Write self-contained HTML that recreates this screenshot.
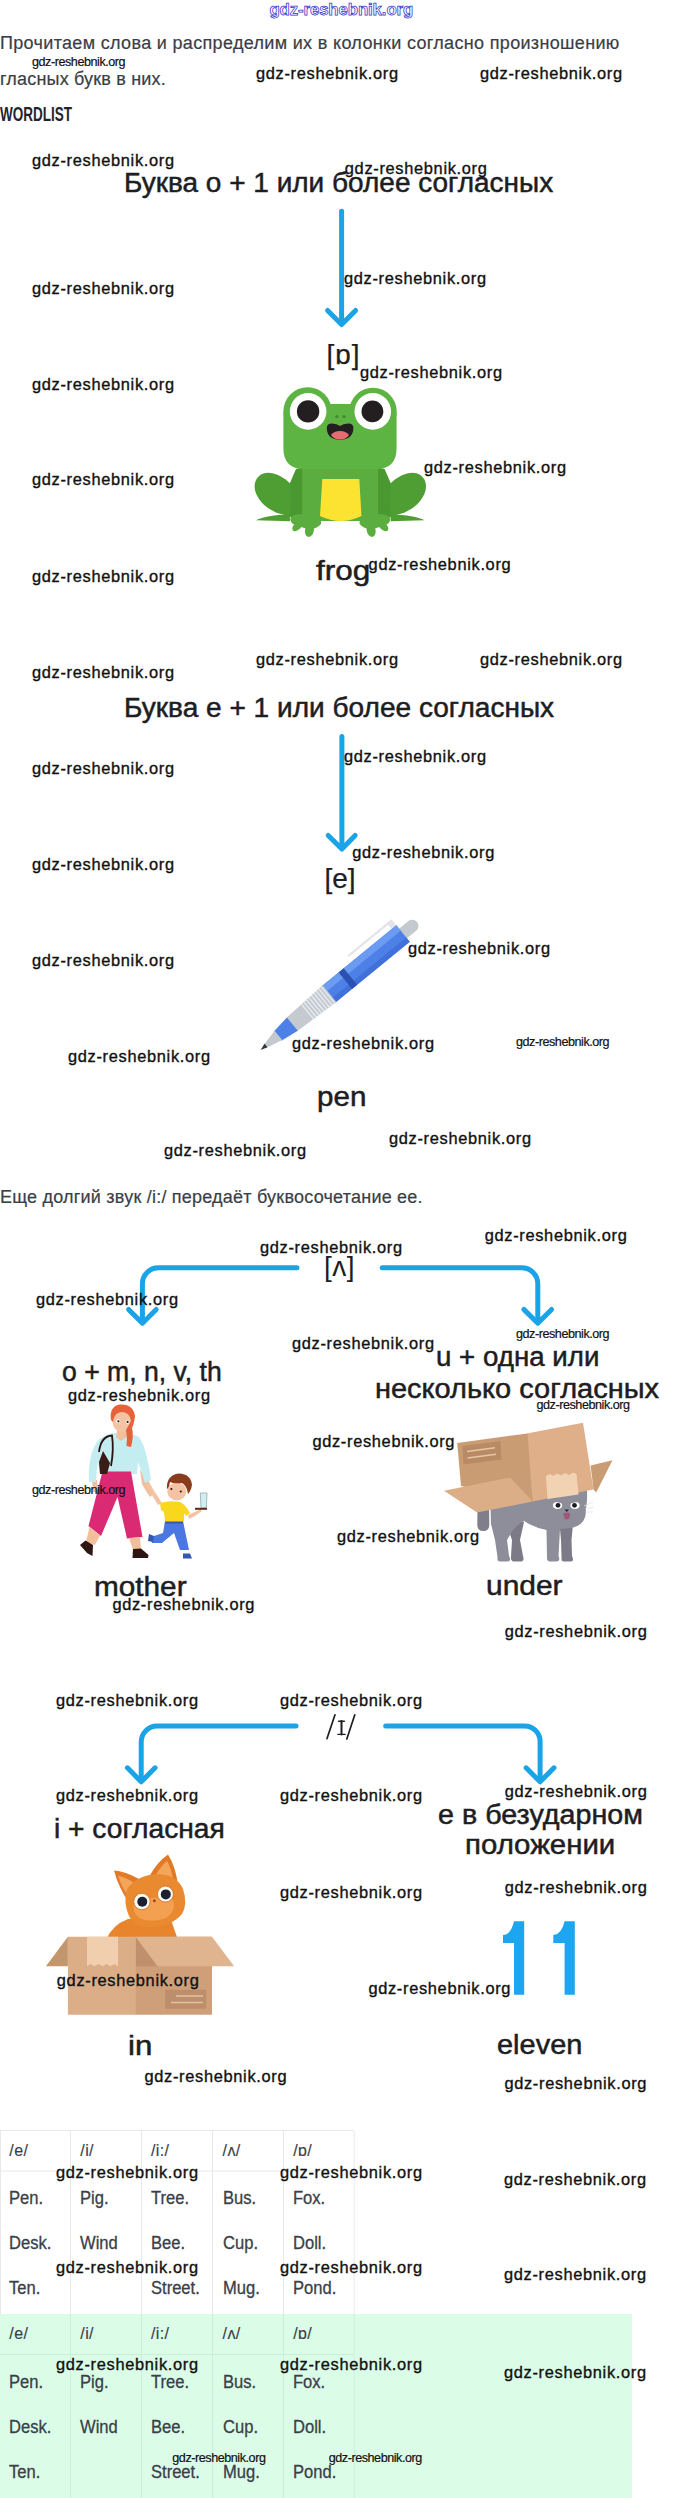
<!DOCTYPE html>
<html><head><meta charset="utf-8"><style>
html,body{margin:0;padding:0;background:#fff;}
#pg{position:relative;width:680px;height:2498px;overflow:hidden;background:#fff;font-family:"Liberation Sans",sans-serif;}
.t{position:absolute;white-space:nowrap;line-height:1;}
svg{position:absolute;}
</style></head><body><div id="pg">
<svg style="left:0;top:0" width="680" height="2498" viewBox="0 0 680 2498" fill="none" stroke="#1aa3e6" stroke-width="5" stroke-linecap="round" stroke-linejoin="round">
<path d="M341.6 211.3V323"/><path d="M327.6 310.5L341.6 324.5L355.6 310.5"/>
<path d="M341.9 736.5V848"/><path d="M328.2 835.4L341.9 849.1L355.1 835.4"/>
<path d="M297 1267.8H158.4A16 16 0 0 0 142.4 1283.8V1322"/><path d="M128.6 1309.4L142.4 1323.2L156.2 1309.4"/>
<path d="M382.2 1267.8H521.8A16 16 0 0 1 537.8 1283.8V1322"/><path d="M523.8 1309.4L537.8 1323.2L551.6 1309.4"/>
<path d="M296 1726H157.2A16 16 0 0 0 141.2 1742V1780"/><path d="M127.4 1767.8L141.2 1781.8L155.1 1767.8"/>
<path d="M385.7 1726H524.6A15.5 15.5 0 0 1 540.1 1741.5V1780"/><path d="M526.1 1767.8L540.1 1781.8L554 1767.8"/>
</svg>

<div style="position:absolute;left:0;top:2314px;width:632px;height:184px;background:#dbfde8"></div>
<svg style="left:0;top:0" width="680" height="2498" viewBox="0 0 680 2498" fill="none" stroke-width="1">
<g stroke="#e6e8ea">
<path d="M0 2130.5H354M0 2171H354M0.5 2131V2314M70.5 2131V2314M141.5 2131V2314M212.5 2131V2314M283.5 2131V2314M354.2 2131V2314"/>
</g>
<g stroke="#cdefd8">
<path d="M0 2354.5H354M70.5 2314V2498M141.5 2314V2498M212.5 2314V2498M283.5 2314V2498M354.2 2314V2498"/>
</g>
</svg>

<svg style="left:250px;top:380px" width="185" height="160" viewBox="250 380 185 160">

<path fill="#4a9830" d="M296 469L304 467V517H288L289.5 484Z"/>
<path fill="#4e9e33" d="M290.5 484C283 476 271 471 263.5 473.5C256 476 253 484 255.5 492C258.5 501 267 509.5 279 513.5L290 516.5Z"/>
<path fill="#4e9e33" d="M256 520.3Q266 515 290 514.5V521.2Z"/>
<path fill="#5aad3e" d="M302.5 455H321V524Q316 530 308 529Q300 527 293 524Q289 521 291 517Q294 514 302.5 514Z"/>
<ellipse cx="297.5" cy="526" rx="3.6" ry="6.5" transform="rotate(45 297.5 526)" fill="#5aad3e"/>
<ellipse cx="309.5" cy="530" rx="4.4" ry="7" transform="rotate(12 309.5 530)" fill="#5aad3e"/>

<g transform="translate(680.6 0) scale(-1 1)">
<path fill="#4a9830" d="M296 469L304 467V517H288L289.5 484Z"/>
<path fill="#4e9e33" d="M290.5 484C283 476 271 471 263.5 473.5C256 476 253 484 255.5 492C258.5 501 267 509.5 279 513.5L290 516.5Z"/>
<path fill="#4e9e33" d="M256 520.3Q266 515 290 514.5V521.2Z"/>
<path fill="#5aad3e" d="M302.5 455H321V524Q316 530 308 529Q300 527 293 524Q289 521 291 517Q294 514 302.5 514Z"/>
<ellipse cx="297.5" cy="526" rx="3.6" ry="6.5" transform="rotate(45 297.5 526)" fill="#5aad3e"/>
<ellipse cx="309.5" cy="530" rx="4.4" ry="7" transform="rotate(12 309.5 530)" fill="#5aad3e"/>
</g>
<!-- body -->
<path fill="#5aad3e" d="M302.5 455H378V521H302.5Z"/>
<!-- head -->
<circle cx="307.6" cy="411.4" r="24.2" fill="#5db442"/>
<circle cx="373" cy="411.4" r="23.7" fill="#5db442"/>
<path fill="#5db442" d="M283.4 412H396.6V448Q396.6 469 376 469H304Q283.4 469 283.4 448Z"/>
<path fill="#5db442" d="M300 404H382V430H300Z"/>
<!-- belly -->
<path fill="#fde331" d="M322.3 479H359.3L361.5 516Q341 526 320 516Z"/>
<!-- eyes -->
<circle cx="308.1" cy="411.4" r="18.3" fill="#fff"/>
<circle cx="372.8" cy="411.4" r="18.3" fill="#fff"/>
<circle cx="308.1" cy="411.4" r="11.2" fill="#231f20"/>
<circle cx="372.4" cy="411.4" r="10.9" fill="#231f20"/>
<circle cx="336.9" cy="416.6" r="1.6" fill="#3f8a2c"/>
<circle cx="344.1" cy="416.6" r="1.6" fill="#3f8a2c"/>
<!-- mouth -->
<path fill="#231f20" d="M326.8 428Q327 423.5 332 423.6Q337 423.8 340 426Q343 423.8 348 423.6Q353.3 423.5 353.4 428Q353 439.7 340 439.7Q327 439.7 326.8 428Z"/>
<path fill="#e96b72" d="M331 435Q334 431 340 431Q346 431 349 435Q346 439.5 340 439.5Q334 439.5 331 435Z"/>
</svg>
<svg style="left:250px;top:910px" width="180" height="150" viewBox="250 910 180 150">
<g transform="translate(260.6 1050) rotate(-39.28)">
<path fill="#e4e2ea" d="M127 -18.3Q127 -16 129 -15.8H178V-10.6H184V-18.3Z"/><path fill="#fff" d="M129 -16.1H177V-10.6H129Z"/>
<path fill="#c4c9d0" d="M182 -6.2H196A6.2 6.2 0 0 1 196 6.2H182Z"/>
<path fill="#4e81e7" d="M88 -10.6H184V10.6H88Z"/>
<path fill="#6c9bf2" d="M88 -10.6H184V-3.5H88Z"/>
<path fill="#4071da" d="M88 5H184V10.6H88Z"/>
<path fill="#2b52b2" d="M109.5 -10.6H116V10.6H109.5Z"/>
<path fill="#c5cad1" d="M40 -8.6L89 -10.8V10.8L40 8.6Z"/>
<g fill="#e9ecf0"><rect x="60.0" y="-10.3" width="1.3" height="20.6"/><rect x="63.3" y="-10.3" width="1.3" height="20.6"/><rect x="66.6" y="-10.3" width="1.3" height="20.6"/><rect x="69.9" y="-10.3" width="1.3" height="20.6"/><rect x="73.2" y="-10.3" width="1.3" height="20.6"/><rect x="76.5" y="-10.3" width="1.3" height="20.6"/><rect x="79.8" y="-10.3" width="1.3" height="20.6"/><rect x="83.1" y="-10.3" width="1.3" height="20.6"/><rect x="86.4" y="-10.3" width="1.3" height="20.6"/></g>
<path fill="#4e81e7" d="M22 -6L41 -8.6V8.6L22 6Z"/>
<path fill="#c4c9d0" d="M5 -1.8L23 -6V6L5 1.8Z"/>
<path fill="#2c3540" d="M0 0L7 -2.2V2.2Z"/>
</g>
</svg>
<svg style="left:70px;top:1395px" width="150" height="170" viewBox="70 1395 150 170">
<!-- mother arms (skin hands) -->
<path fill="#f2bf9d" d="M140 1470L147 1478Q152 1486 154 1494L150 1497Q145 1490 142 1484Z"/>
<path fill="#f2bf9d" d="M92 1480L97 1480L98 1492L93 1492Z"/>
<!-- shirt & arms -->
<path fill="#c3edf1" d="M104 1436Q112 1432 121 1433Q131 1433 139 1437Q144 1444 147 1458Q150 1470 151 1480L145 1483Q141 1470 138 1462L137 1474H100L98 1462Q96 1472 96 1482L89 1482Q88 1468 91 1456Q95 1440 104 1436Z"/>
<!-- pants -->
<path fill="#da2a74" d="M102.5 1471.5H131L142.5 1537L127 1538.5L117.5 1497L101 1536L88.5 1526Z"/>
<!-- legs skin -->
<path fill="#f2bf9d" d="M89.5 1527L100 1535.5L95 1545L86 1542Z"/>
<path fill="#f2bf9d" d="M129 1538L140 1537L141 1550L133 1550Z"/>
<!-- shoes -->
<path fill="#2e1712" d="M85.5 1540.5L93 1545L92.5 1556L87 1553L80 1545Z"/>
<path fill="#2e1712" d="M133 1549L141 1548.5L148.5 1555L148 1558H132.5Z"/>
<!-- neck & face -->
<path fill="#f2bf9d" d="M117.5 1428H126L127 1437L121 1441L116 1437Z"/>
<ellipse cx="122" cy="1421.5" rx="9.5" ry="10.5" fill="#f4c3a3"/>
<!-- hair -->
<path fill="#e5623a" d="M111 1420Q109 1406 120 1404.5Q133 1403.5 135 1416Q134 1424 132 1428Q134 1436 131 1447L126.5 1446Q127.5 1437 126 1430L131 1421Q130 1412 121 1412Q114 1413 113 1422Z"/>
<!-- eyes -->
<circle cx="118.2" cy="1421.2" r="1.9" fill="#fff"/><circle cx="127.6" cy="1421.8" r="1.9" fill="#fff"/>
<circle cx="118.4" cy="1421.3" r="1.1" fill="#2a1a18"/><circle cx="127.6" cy="1421.9" r="1.1" fill="#2a1a18"/>
<!-- bag strap & bag -->
<path fill="none" stroke="#2a1412" stroke-width="1.8" d="M99 1452Q101 1436 112 1435.5Q114 1450 111 1466"/>
<path fill="#3a1c17" d="M103 1451L110 1463L107 1474L100 1474L99 1462Z"/>
<!-- child -->
<path fill="#f4c3a3" d="M145.5 1484Q150 1492 158 1505L162 1503Q155 1492 149 1483Z"/>
<path fill="#f4c3a3" d="M188 1515Q195 1512 201 1509L202 1511Q196 1516 189 1519Z"/>
<path fill="#4a77e1" d="M165 1521H183L189 1550H180L174 1533L162 1543L152 1543L151 1537L163 1533Z"/>
<path fill="#3457b5" d="M165.3 1520.8H183V1523.5H165.3Z"/>
<path fill="#f9d71c" d="M160 1503Q170 1500 180 1502Q186 1505 190 1513L186 1516L184 1513L184 1521.5H165L164 1512L161 1510Z"/>
<ellipse cx="176.8" cy="1491.5" rx="9.5" ry="9" fill="#f4c3a3"/>
<path fill="#8a3d1d" d="M167 1489Q166 1475 179 1473.5Q191 1474 192 1485Q191 1491 188 1494Q187 1486 182 1483Q174 1484 170 1482Q169 1488 167 1489Z"/>
<circle cx="171.4" cy="1489" r="1.1" fill="#2a1a18"/><circle cx="180.8" cy="1491.5" r="1.1" fill="#2a1a18"/>
<path fill="#3457b5" d="M149 1534L154 1536L153 1542L148 1541Z"/>
<path fill="#3457b5" d="M183 1553.5L190 1553.5L192 1558.5H183Z"/>
<!-- glass & tray -->
<path fill="#cfeff2" stroke="#9aa" stroke-width="0.8" d="M200.3 1493H207L206.3 1508H201Z"/>
<path fill="#5a2a1a" d="M195 1507.8H207V1509.8H195Z"/>
</svg>

<svg style="left:435px;top:1415px" width="185" height="152" viewBox="435 1415 185 152">
<!-- tail -->
<path fill="#7f7e8a" d="M477.5 1505H489L489.3 1525Q489 1531 483.3 1531Q477.5 1531 477.3 1525Z"/>
<!-- far back leg -->
<path fill="#7b7a86" d="M512 1518L524 1522L520 1540L523 1556Q525 1561.5 520 1561.5H513Q510.5 1561 511 1557L512 1540L508 1528Z"/>
<!-- far front leg -->
<path fill="#7b7a86" d="M559.5 1524H573L571.5 1540L572 1556Q575 1561.5 570 1561.5H564Q561 1561.5 561.5 1557L561 1540Z"/>
<!-- body -->
<path fill="#8e8d9a" d="M490 1492H584L586 1512Q585 1526 570 1528L560 1529L558.5 1556Q561 1561.5 556 1561.5H550Q546.5 1561.5 547 1557L546.5 1530Q535 1528 524 1521Q518 1524 513 1530L507 1540L509 1556Q512 1561.5 507 1561.5H500Q497 1561.5 497.5 1557L495 1540L491 1524Z"/>
<!-- head -->
<path fill="#8e8d9a" d="M542.7 1490H587Q588 1512 581 1520Q574 1526 564 1526Q551 1525 546 1518Q541.5 1510 542.7 1498Z"/>
<!-- face -->
<ellipse cx="557.5" cy="1505.5" rx="4.6" ry="3.4" fill="#fff"/>
<ellipse cx="575" cy="1505.5" rx="4.6" ry="3.4" fill="#fff"/>
<circle cx="558" cy="1505.3" r="2.4" fill="#1c1a24"/>
<circle cx="574.5" cy="1505.3" r="2.4" fill="#1c1a24"/>
<path fill="#8e8d9a" d="M552 1501L563 1503.5V1501.5H552Z M570 1503.5L581 1501H570Z"/>
<path fill="#2a2530" d="M564.5 1509.5H569L566.8 1512Z"/>
<path fill="#a0587a" d="M563.3 1513.5Q566.8 1511.5 570.3 1513.5L569.3 1518.5Q566.8 1520.5 564.3 1518.5Z"/>
<path stroke="#e2e2ea" stroke-width="0.8" fill="none" d="M584 1506L593 1502M585 1509L594 1507M585 1512L593 1512"/>
<!-- box right face -->
<path fill="#deaf88" d="M526.8 1433.5L583 1422.8L593.5 1489.5L532.3 1501.6Z"/>
<!-- box left face -->
<path fill="#c99c74" d="M457.2 1443.1L527.6 1433.4L532.6 1501.2L461 1486Z"/>
<path fill="#b98b64" d="M462.5 1446L500.5 1441L501.5 1459.5L463.5 1464.5Z"/>
<path stroke="#e6c6a6" stroke-width="1.6" d="M467 1451.5L495 1447.8M467.5 1458L496 1454.3"/>
<!-- tape -->
<path fill="#f1d3b3" d="M545.9 1476L550 1474L553 1476L557 1473.5L561 1475.5L565 1473L569 1475L573 1472.5L576.5 1474L578.5 1494.5L547.5 1499Z"/>
<!-- right flap -->
<path fill="#c99c74" d="M590.6 1465.5L612.5 1460.3L596.2 1492.5L593.5 1489.5Z"/>
<!-- left flap -->
<path fill="#dcae87" d="M444 1490.8L510.1 1477.6L532.8 1501.5L477 1512.5Z"/>
</svg>

<svg style="left:40px;top:1850px" width="200" height="170" viewBox="40 1850 200 170">
<!-- cat body -->
<path fill="#e8852c" d="M106 1940Q112 1925 128 1919L170 1917L178 1940Z"/>
<!-- ears -->
<path fill="#e07a26" d="M114 1870.5Q125 1871 139 1879L130 1904Q119 1889 114 1870.5Z"/>
<path fill="#f4a55a" d="M118 1875.5Q126 1877.5 133 1882L128 1896Q121 1886 118 1875.5Z"/>
<path fill="#e07a26" d="M149 1877Q157 1862 168 1854.5Q176 1867 178 1886Z"/>
<path fill="#f4a55a" d="M155 1876Q161 1866 167 1861Q172 1870 173 1880Z"/>
<!-- head -->
<path fill="#ea8a30" d="M127 1889Q137 1875 158 1874Q177 1875 183 1889Q188 1904 182 1914Q172 1926 152 1927Q135 1928 129 1916Q123 1903 127 1889Z"/>
<path fill="#f3a050" d="M134 1904Q150 1895 172 1898Q178 1910 166 1918Q150 1924 138 1917Q132 1911 134 1904Z"/>
<!-- eyes -->
<circle cx="141.9" cy="1901.5" r="8.2" fill="#fffaf0" stroke="#c96a20" stroke-width="0.8"/>
<circle cx="165.4" cy="1894.1" r="8" fill="#fffaf0" stroke="#c96a20" stroke-width="0.8"/>
<circle cx="142.3" cy="1901.8" r="5" fill="#1b2033"/>
<circle cx="165.8" cy="1894.4" r="5" fill="#1b2033"/>
<circle cx="154.4" cy="1900.7" r="1.5" fill="#a44a1a"/>
<!-- box: right side face -->
<path fill="#cf9f7a" d="M135 1936.8H212V2014.7H135Z"/>
<path fill="#c0906c" d="M135.6 1936.8L157.6 1966.2H135.6Z"/>
<!-- front face -->
<path fill="#dcae88" d="M67.9 1936.8H135.8V2014.7H67.9Z"/>
<!-- left flap -->
<path fill="#c4966e" d="M45.9 1966.2L67.9 1936.8V1966.2Z"/>
<!-- tape -->
<path fill="#f1cfae" d="M87 1936.8H118V1966.2L114 1964L110.5 1966.2L106.5 1964L102.5 1966.2L98.5 1964L94.5 1966.2L90.5 1964L87 1966.2Z"/>
<!-- right flap -->
<path fill="#e0b48f" d="M135.6 1936.8H212L234.1 1966.2H157.6Z"/>
<!-- label -->
<path fill="#bc8e6b" d="M165 1989.7H206.2V2008.8H165Z"/>
<path stroke="#e4c2a4" stroke-width="1.6" d="M176 1996H203M171 2002.5H203"/>
</svg>

<svg style="left:495px;top:1915px" width="90" height="85" viewBox="495 1915 90 85">
<path fill="#1ba6ef" d="M514 1921.2H524.2V1994.7H514V1943H503V1935Q511 1934.5 514 1921.2Z"/>
<path fill="#1ba6ef" d="M564.6 1921.2H574.8V1994.7H564.6V1943H553.3V1935Q561.5 1934.5 564.6 1921.2Z"/>
</svg>

<svg style="left:315px;top:1705px" width="50" height="40" viewBox="315 1705 50 40" fill="none" stroke="#1d1d22" stroke-linecap="round">
<path stroke-width="1.7" d="M335 1714.8L327 1738.6M354.8 1714.8L346.8 1738.9"/>
<path stroke-width="2" d="M341.5 1721V1734.5"/>
<path stroke-width="1.4" d="M338.6 1721.2H344.4M337.9 1734.4H345.1"/>
</svg>

<div class="t" style="left:0.0px;top:33.54px;font-size:18px;color:#3a3e46;letter-spacing:0.330px;-webkit-text-stroke:0.2px #3a3e46;">Прочитаем слова и распределим их в колонки согласно произношению</div>
<div class="t" style="left:0.0px;top:69.74px;font-size:18px;color:#3a3e46;letter-spacing:0.180px;-webkit-text-stroke:0.2px #3a3e46;">гласных букв в них.</div>
<div class="t" style="left:0.0px;top:104.67px;font-size:19.3px;color:#1f2530;font-weight:bold;transform:scaleX(0.70);transform-origin:0 0;">WORDLIST</div>
<div class="t" style="left:124.1px;top:169.56px;font-size:27px;color:#1d1d22;-webkit-text-stroke:0.5px #1d1d22;transform:scaleX(1.0364);transform-origin:0 0;">Буква о + 1 или более согласных</div>
<div class="t" style="left:326.5px;top:340.54px;font-size:28px;color:#1d1d22;letter-spacing:1.000px;-webkit-text-stroke:0.25px #1d1d22;">[ɒ]</div>
<div class="t" style="left:315.5px;top:557.56px;font-size:27px;color:#1d1d22;-webkit-text-stroke:0.5px #1d1d22;transform:scaleX(1.1667);transform-origin:0 0;">frog</div>
<div class="t" style="left:124.1px;top:695.06px;font-size:27px;color:#1d1d22;-webkit-text-stroke:0.5px #1d1d22;transform:scaleX(1.0388);transform-origin:0 0;">Буква е + 1 или более согласных</div>
<div class="t" style="left:324.5px;top:865.14px;font-size:28px;color:#1d1d22;-webkit-text-stroke:0.25px #1d1d22;">[e]</div>
<div class="t" style="left:317.0px;top:1084.06px;font-size:27px;color:#1d1d22;-webkit-text-stroke:0.5px #1d1d22;transform:scaleX(1.0952);transform-origin:0 0;">pen</div>
<div class="t" style="left:0.0px;top:1188.34px;font-size:18px;color:#3a3e46;letter-spacing:0.220px;-webkit-text-stroke:0.2px #3a3e46;">Еще долгий звук /i:/ передаёт буквосочетание ее.</div>
<div class="t" style="left:324.0px;top:1252.54px;font-size:28px;color:#1d1d22;letter-spacing:0.500px;">[ʌ]</div>
<div class="t" style="left:61.5px;top:1359.06px;font-size:27px;color:#1d1d22;-webkit-text-stroke:0.5px #1d1d22;transform:scaleX(0.9844);transform-origin:0 0;">o + m, n, v, th</div>
<div class="t" style="left:436.0px;top:1343.66px;font-size:27px;color:#1d1d22;-webkit-text-stroke:0.5px #1d1d22;transform:scaleX(1.0256);transform-origin:0 0;">u + одна или</div>
<div class="t" style="left:374.7px;top:1375.86px;font-size:27px;color:#1d1d22;-webkit-text-stroke:0.5px #1d1d22;transform:scaleX(1.0734);transform-origin:0 0;">несколько согласных</div>
<div class="t" style="left:94.2px;top:1573.86px;font-size:27px;color:#1d1d22;-webkit-text-stroke:0.5px #1d1d22;transform:scaleX(1.1012);transform-origin:0 0;">mother</div>
<div class="t" style="left:485.9px;top:1573.36px;font-size:27px;color:#1d1d22;-webkit-text-stroke:0.5px #1d1d22;transform:scaleX(1.1088);transform-origin:0 0;">under</div>
<div class="t" style="left:54.4px;top:1815.56px;font-size:27px;color:#1d1d22;-webkit-text-stroke:0.5px #1d1d22;transform:scaleX(1.0435);transform-origin:0 0;">i + согласная</div>
<div class="t" style="left:438.4px;top:1802.06px;font-size:27px;color:#1d1d22;-webkit-text-stroke:0.5px #1d1d22;transform:scaleX(1.0628);transform-origin:0 0;">е в безударном</div>
<div class="t" style="left:464.8px;top:1831.56px;font-size:27px;color:#1d1d22;-webkit-text-stroke:0.5px #1d1d22;transform:scaleX(1.0889);transform-origin:0 0;">положении</div>
<div class="t" style="left:127.5px;top:2032.86px;font-size:27px;color:#1d1d22;-webkit-text-stroke:0.5px #1d1d22;transform:scaleX(1.1556);transform-origin:0 0;">in</div>
<div class="t" style="left:496.9px;top:2031.56px;font-size:27px;color:#1d1d22;-webkit-text-stroke:0.5px #1d1d22;transform:scaleX(1.0727);transform-origin:0 0;">eleven</div>
<div class="t" style="left:9.3px;top:2143.28px;font-size:16px;color:#3a3f48;letter-spacing:0.400px;-webkit-text-stroke:0.15px #3a3f48;">/e/</div>
<div class="t" style="left:9.3px;top:2189.04px;font-size:18px;color:#3a3f48;-webkit-text-stroke:0.3px #3a3f48;transform:scaleX(0.92);transform-origin:0 0;">Pen.</div>
<div class="t" style="left:9.3px;top:2234.34px;font-size:18px;color:#3a3f48;-webkit-text-stroke:0.3px #3a3f48;transform:scaleX(0.92);transform-origin:0 0;">Desk.</div>
<div class="t" style="left:9.3px;top:2279.04px;font-size:18px;color:#3a3f48;-webkit-text-stroke:0.3px #3a3f48;transform:scaleX(0.92);transform-origin:0 0;">Ten.</div>
<div class="t" style="left:80.3px;top:2143.28px;font-size:16px;color:#3a3f48;letter-spacing:0.400px;-webkit-text-stroke:0.15px #3a3f48;">/i/</div>
<div class="t" style="left:80.3px;top:2189.04px;font-size:18px;color:#3a3f48;-webkit-text-stroke:0.3px #3a3f48;transform:scaleX(0.92);transform-origin:0 0;">Pig.</div>
<div class="t" style="left:80.3px;top:2234.34px;font-size:18px;color:#3a3f48;-webkit-text-stroke:0.3px #3a3f48;transform:scaleX(0.92);transform-origin:0 0;">Wind</div>
<div class="t" style="left:150.9px;top:2143.28px;font-size:16px;color:#3a3f48;letter-spacing:0.400px;-webkit-text-stroke:0.15px #3a3f48;">/i:/</div>
<div class="t" style="left:150.9px;top:2189.04px;font-size:18px;color:#3a3f48;-webkit-text-stroke:0.3px #3a3f48;transform:scaleX(0.92);transform-origin:0 0;">Tree.</div>
<div class="t" style="left:150.9px;top:2234.34px;font-size:18px;color:#3a3f48;-webkit-text-stroke:0.3px #3a3f48;transform:scaleX(0.92);transform-origin:0 0;">Bee.</div>
<div class="t" style="left:150.9px;top:2279.04px;font-size:18px;color:#3a3f48;-webkit-text-stroke:0.3px #3a3f48;transform:scaleX(0.92);transform-origin:0 0;">Street.</div>
<div class="t" style="left:222.6px;top:2143.28px;font-size:16px;color:#3a3f48;letter-spacing:0.400px;-webkit-text-stroke:0.15px #3a3f48;">/ʌ/</div>
<div class="t" style="left:222.6px;top:2189.04px;font-size:18px;color:#3a3f48;-webkit-text-stroke:0.3px #3a3f48;transform:scaleX(0.92);transform-origin:0 0;">Bus.</div>
<div class="t" style="left:222.6px;top:2234.34px;font-size:18px;color:#3a3f48;-webkit-text-stroke:0.3px #3a3f48;transform:scaleX(0.92);transform-origin:0 0;">Cup.</div>
<div class="t" style="left:222.6px;top:2279.04px;font-size:18px;color:#3a3f48;-webkit-text-stroke:0.3px #3a3f48;transform:scaleX(0.92);transform-origin:0 0;">Mug.</div>
<div class="t" style="left:293.2px;top:2143.28px;font-size:16px;color:#3a3f48;letter-spacing:0.400px;-webkit-text-stroke:0.15px #3a3f48;">/ɒ/</div>
<div class="t" style="left:293.2px;top:2189.04px;font-size:18px;color:#3a3f48;-webkit-text-stroke:0.3px #3a3f48;transform:scaleX(0.92);transform-origin:0 0;">Fox.</div>
<div class="t" style="left:293.2px;top:2234.34px;font-size:18px;color:#3a3f48;-webkit-text-stroke:0.3px #3a3f48;transform:scaleX(0.92);transform-origin:0 0;">Doll.</div>
<div class="t" style="left:293.2px;top:2279.04px;font-size:18px;color:#3a3f48;-webkit-text-stroke:0.3px #3a3f48;transform:scaleX(0.92);transform-origin:0 0;">Pond.</div>
<div class="t" style="left:9.3px;top:2326.48px;font-size:16px;color:#3a3f48;letter-spacing:0.400px;-webkit-text-stroke:0.15px #3a3f48;">/e/</div>
<div class="t" style="left:9.3px;top:2373.14px;font-size:18px;color:#3a3f48;-webkit-text-stroke:0.3px #3a3f48;transform:scaleX(0.92);transform-origin:0 0;">Pen.</div>
<div class="t" style="left:9.3px;top:2417.94px;font-size:18px;color:#3a3f48;-webkit-text-stroke:0.3px #3a3f48;transform:scaleX(0.92);transform-origin:0 0;">Desk.</div>
<div class="t" style="left:9.3px;top:2462.94px;font-size:18px;color:#3a3f48;-webkit-text-stroke:0.3px #3a3f48;transform:scaleX(0.92);transform-origin:0 0;">Ten.</div>
<div class="t" style="left:80.3px;top:2326.48px;font-size:16px;color:#3a3f48;letter-spacing:0.400px;-webkit-text-stroke:0.15px #3a3f48;">/i/</div>
<div class="t" style="left:80.3px;top:2373.14px;font-size:18px;color:#3a3f48;-webkit-text-stroke:0.3px #3a3f48;transform:scaleX(0.92);transform-origin:0 0;">Pig.</div>
<div class="t" style="left:80.3px;top:2417.94px;font-size:18px;color:#3a3f48;-webkit-text-stroke:0.3px #3a3f48;transform:scaleX(0.92);transform-origin:0 0;">Wind</div>
<div class="t" style="left:150.9px;top:2326.48px;font-size:16px;color:#3a3f48;letter-spacing:0.400px;-webkit-text-stroke:0.15px #3a3f48;">/i:/</div>
<div class="t" style="left:150.9px;top:2373.14px;font-size:18px;color:#3a3f48;-webkit-text-stroke:0.3px #3a3f48;transform:scaleX(0.92);transform-origin:0 0;">Tree.</div>
<div class="t" style="left:150.9px;top:2417.94px;font-size:18px;color:#3a3f48;-webkit-text-stroke:0.3px #3a3f48;transform:scaleX(0.92);transform-origin:0 0;">Bee.</div>
<div class="t" style="left:150.9px;top:2462.94px;font-size:18px;color:#3a3f48;-webkit-text-stroke:0.3px #3a3f48;transform:scaleX(0.92);transform-origin:0 0;">Street.</div>
<div class="t" style="left:222.6px;top:2326.48px;font-size:16px;color:#3a3f48;letter-spacing:0.400px;-webkit-text-stroke:0.15px #3a3f48;">/ʌ/</div>
<div class="t" style="left:222.6px;top:2373.14px;font-size:18px;color:#3a3f48;-webkit-text-stroke:0.3px #3a3f48;transform:scaleX(0.92);transform-origin:0 0;">Bus.</div>
<div class="t" style="left:222.6px;top:2417.94px;font-size:18px;color:#3a3f48;-webkit-text-stroke:0.3px #3a3f48;transform:scaleX(0.92);transform-origin:0 0;">Cup.</div>
<div class="t" style="left:222.6px;top:2462.94px;font-size:18px;color:#3a3f48;-webkit-text-stroke:0.3px #3a3f48;transform:scaleX(0.92);transform-origin:0 0;">Mug.</div>
<div class="t" style="left:293.2px;top:2326.48px;font-size:16px;color:#3a3f48;letter-spacing:0.400px;-webkit-text-stroke:0.15px #3a3f48;">/ɒ/</div>
<div class="t" style="left:293.2px;top:2373.14px;font-size:18px;color:#3a3f48;-webkit-text-stroke:0.3px #3a3f48;transform:scaleX(0.92);transform-origin:0 0;">Fox.</div>
<div class="t" style="left:293.2px;top:2417.94px;font-size:18px;color:#3a3f48;-webkit-text-stroke:0.3px #3a3f48;transform:scaleX(0.92);transform-origin:0 0;">Doll.</div>
<div class="t" style="left:293.2px;top:2462.94px;font-size:18px;color:#3a3f48;-webkit-text-stroke:0.3px #3a3f48;transform:scaleX(0.92);transform-origin:0 0;">Pond.</div>
<div class="t" style="left:269.4px;top:2.22px;font-size:16.8px;color:#fbfbff;font-weight:bold;letter-spacing:-0.100px;-webkit-text-stroke:0.75px #3434cc;">gdz-reshebnik.org</div>
<div class="t ws" style="left:32.0px;top:56.27px;font-size:12.6px;color:#111;letter-spacing:-0.450px;-webkit-text-stroke:0.2px #111;">gdz-reshebnik.org</div>
<div class="t w" style="left:256.0px;top:64.55px;font-size:16.4px;color:#111;letter-spacing:0.680px;-webkit-text-stroke:0.35px #111;">gdz-reshebnik.org</div>
<div class="t w" style="left:480.0px;top:64.55px;font-size:16.4px;color:#111;letter-spacing:0.680px;-webkit-text-stroke:0.35px #111;">gdz-reshebnik.org</div>
<div class="t w" style="left:32.0px;top:152.30px;font-size:16.4px;color:#111;letter-spacing:0.680px;-webkit-text-stroke:0.35px #111;">gdz-reshebnik.org</div>
<div class="t w" style="left:344.8px;top:159.55px;font-size:16.4px;color:#111;letter-spacing:0.680px;-webkit-text-stroke:0.35px #111;">gdz-reshebnik.org</div>
<div class="t w" style="left:32.0px;top:279.80px;font-size:16.4px;color:#111;letter-spacing:0.680px;-webkit-text-stroke:0.35px #111;">gdz-reshebnik.org</div>
<div class="t w" style="left:344.0px;top:269.85px;font-size:16.4px;color:#111;letter-spacing:0.680px;-webkit-text-stroke:0.35px #111;">gdz-reshebnik.org</div>
<div class="t w" style="left:32.0px;top:376.05px;font-size:16.4px;color:#111;letter-spacing:0.680px;-webkit-text-stroke:0.35px #111;">gdz-reshebnik.org</div>
<div class="t w" style="left:360.0px;top:363.55px;font-size:16.4px;color:#111;letter-spacing:0.680px;-webkit-text-stroke:0.35px #111;">gdz-reshebnik.org</div>
<div class="t w" style="left:32.0px;top:471.05px;font-size:16.4px;color:#111;letter-spacing:0.680px;-webkit-text-stroke:0.35px #111;">gdz-reshebnik.org</div>
<div class="t w" style="left:424.0px;top:458.55px;font-size:16.4px;color:#111;letter-spacing:0.680px;-webkit-text-stroke:0.35px #111;">gdz-reshebnik.org</div>
<div class="t w" style="left:32.0px;top:567.55px;font-size:16.4px;color:#111;letter-spacing:0.680px;-webkit-text-stroke:0.35px #111;">gdz-reshebnik.org</div>
<div class="t w" style="left:368.6px;top:555.85px;font-size:16.4px;color:#111;letter-spacing:0.680px;-webkit-text-stroke:0.35px #111;">gdz-reshebnik.org</div>
<div class="t w" style="left:32.0px;top:663.55px;font-size:16.4px;color:#111;letter-spacing:0.680px;-webkit-text-stroke:0.35px #111;">gdz-reshebnik.org</div>
<div class="t w" style="left:256.0px;top:651.05px;font-size:16.4px;color:#111;letter-spacing:0.680px;-webkit-text-stroke:0.35px #111;">gdz-reshebnik.org</div>
<div class="t w" style="left:480.0px;top:651.05px;font-size:16.4px;color:#111;letter-spacing:0.680px;-webkit-text-stroke:0.35px #111;">gdz-reshebnik.org</div>
<div class="t w" style="left:32.0px;top:760.05px;font-size:16.4px;color:#111;letter-spacing:0.680px;-webkit-text-stroke:0.35px #111;">gdz-reshebnik.org</div>
<div class="t w" style="left:344.0px;top:748.05px;font-size:16.4px;color:#111;letter-spacing:0.680px;-webkit-text-stroke:0.35px #111;">gdz-reshebnik.org</div>
<div class="t w" style="left:32.0px;top:856.05px;font-size:16.4px;color:#111;letter-spacing:0.680px;-webkit-text-stroke:0.35px #111;">gdz-reshebnik.org</div>
<div class="t w" style="left:352.2px;top:844.25px;font-size:16.4px;color:#111;letter-spacing:0.680px;-webkit-text-stroke:0.35px #111;">gdz-reshebnik.org</div>
<div class="t w" style="left:32.0px;top:952.05px;font-size:16.4px;color:#111;letter-spacing:0.680px;-webkit-text-stroke:0.35px #111;">gdz-reshebnik.org</div>
<div class="t w" style="left:408.0px;top:940.05px;font-size:16.4px;color:#111;letter-spacing:0.680px;-webkit-text-stroke:0.35px #111;">gdz-reshebnik.org</div>
<div class="t w" style="left:68.0px;top:1047.55px;font-size:16.4px;color:#111;letter-spacing:0.680px;-webkit-text-stroke:0.35px #111;">gdz-reshebnik.org</div>
<div class="t w" style="left:292.0px;top:1035.05px;font-size:16.4px;color:#111;letter-spacing:0.680px;-webkit-text-stroke:0.35px #111;">gdz-reshebnik.org</div>
<div class="t ws" style="left:516.0px;top:1035.77px;font-size:12.6px;color:#111;letter-spacing:-0.450px;-webkit-text-stroke:0.2px #111;">gdz-reshebnik.org</div>
<div class="t w" style="left:164.0px;top:1142.05px;font-size:16.4px;color:#111;letter-spacing:0.680px;-webkit-text-stroke:0.35px #111;">gdz-reshebnik.org</div>
<div class="t w" style="left:389.0px;top:1130.05px;font-size:16.4px;color:#111;letter-spacing:0.680px;-webkit-text-stroke:0.35px #111;">gdz-reshebnik.org</div>
<div class="t w" style="left:260.0px;top:1238.55px;font-size:16.4px;color:#111;letter-spacing:0.680px;-webkit-text-stroke:0.35px #111;">gdz-reshebnik.org</div>
<div class="t w" style="left:484.7px;top:1226.65px;font-size:16.4px;color:#111;letter-spacing:0.680px;-webkit-text-stroke:0.35px #111;">gdz-reshebnik.org</div>
<div class="t w" style="left:36.0px;top:1291.05px;font-size:16.4px;color:#111;letter-spacing:0.680px;-webkit-text-stroke:0.35px #111;">gdz-reshebnik.org</div>
<div class="t w" style="left:292.0px;top:1335.05px;font-size:16.4px;color:#111;letter-spacing:0.680px;-webkit-text-stroke:0.35px #111;">gdz-reshebnik.org</div>
<div class="t ws" style="left:516.0px;top:1327.77px;font-size:12.6px;color:#111;letter-spacing:-0.450px;-webkit-text-stroke:0.2px #111;">gdz-reshebnik.org</div>
<div class="t w" style="left:68.0px;top:1387.05px;font-size:16.4px;color:#111;letter-spacing:0.680px;-webkit-text-stroke:0.35px #111;">gdz-reshebnik.org</div>
<div class="t ws" style="left:536.5px;top:1399.17px;font-size:12.6px;color:#111;letter-spacing:-0.450px;-webkit-text-stroke:0.2px #111;">gdz-reshebnik.org</div>
<div class="t w" style="left:312.4px;top:1432.55px;font-size:16.4px;color:#111;letter-spacing:0.680px;-webkit-text-stroke:0.35px #111;">gdz-reshebnik.org</div>
<div class="t ws" style="left:32.0px;top:1484.47px;font-size:12.6px;color:#111;letter-spacing:-0.450px;-webkit-text-stroke:0.2px #111;">gdz-reshebnik.org</div>
<div class="t w" style="left:337.0px;top:1527.85px;font-size:16.4px;color:#111;letter-spacing:0.680px;-webkit-text-stroke:0.35px #111;">gdz-reshebnik.org</div>
<div class="t w" style="left:112.4px;top:1596.05px;font-size:16.4px;color:#111;letter-spacing:0.680px;-webkit-text-stroke:0.35px #111;">gdz-reshebnik.org</div>
<div class="t w" style="left:504.7px;top:1622.65px;font-size:16.4px;color:#111;letter-spacing:0.680px;-webkit-text-stroke:0.35px #111;">gdz-reshebnik.org</div>
<div class="t w" style="left:56.0px;top:1692.05px;font-size:16.4px;color:#111;letter-spacing:0.680px;-webkit-text-stroke:0.35px #111;">gdz-reshebnik.org</div>
<div class="t w" style="left:280.0px;top:1692.05px;font-size:16.4px;color:#111;letter-spacing:0.680px;-webkit-text-stroke:0.35px #111;">gdz-reshebnik.org</div>
<div class="t w" style="left:56.0px;top:1787.05px;font-size:16.4px;color:#111;letter-spacing:0.680px;-webkit-text-stroke:0.35px #111;">gdz-reshebnik.org</div>
<div class="t w" style="left:280.0px;top:1786.65px;font-size:16.4px;color:#111;letter-spacing:0.680px;-webkit-text-stroke:0.35px #111;">gdz-reshebnik.org</div>
<div class="t w" style="left:504.7px;top:1782.85px;font-size:16.4px;color:#111;letter-spacing:0.680px;-webkit-text-stroke:0.35px #111;">gdz-reshebnik.org</div>
<div class="t w" style="left:280.0px;top:1884.25px;font-size:16.4px;color:#111;letter-spacing:0.680px;-webkit-text-stroke:0.35px #111;">gdz-reshebnik.org</div>
<div class="t w" style="left:504.7px;top:1879.35px;font-size:16.4px;color:#111;letter-spacing:0.680px;-webkit-text-stroke:0.35px #111;">gdz-reshebnik.org</div>
<div class="t w" style="left:56.8px;top:1971.65px;font-size:16.4px;color:#111;letter-spacing:0.680px;-webkit-text-stroke:0.35px #111;">gdz-reshebnik.org</div>
<div class="t w" style="left:368.4px;top:1979.65px;font-size:16.4px;color:#111;letter-spacing:0.680px;-webkit-text-stroke:0.35px #111;">gdz-reshebnik.org</div>
<div class="t w" style="left:144.5px;top:2068.05px;font-size:16.4px;color:#111;letter-spacing:0.680px;-webkit-text-stroke:0.35px #111;">gdz-reshebnik.org</div>
<div class="t w" style="left:504.4px;top:2074.55px;font-size:16.4px;color:#111;letter-spacing:0.680px;-webkit-text-stroke:0.35px #111;">gdz-reshebnik.org</div>
<div class="t w" style="left:56.0px;top:2163.75px;font-size:16.4px;color:#111;letter-spacing:0.680px;-webkit-text-stroke:0.35px #111;">gdz-reshebnik.org</div>
<div class="t w" style="left:280.0px;top:2163.55px;font-size:16.4px;color:#111;letter-spacing:0.680px;-webkit-text-stroke:0.35px #111;">gdz-reshebnik.org</div>
<div class="t w" style="left:504.0px;top:2171.05px;font-size:16.4px;color:#111;letter-spacing:0.680px;-webkit-text-stroke:0.35px #111;">gdz-reshebnik.org</div>
<div class="t w" style="left:56.0px;top:2258.55px;font-size:16.4px;color:#111;letter-spacing:0.680px;-webkit-text-stroke:0.35px #111;">gdz-reshebnik.org</div>
<div class="t w" style="left:280.0px;top:2258.55px;font-size:16.4px;color:#111;letter-spacing:0.680px;-webkit-text-stroke:0.35px #111;">gdz-reshebnik.org</div>
<div class="t w" style="left:504.0px;top:2266.05px;font-size:16.4px;color:#111;letter-spacing:0.680px;-webkit-text-stroke:0.35px #111;">gdz-reshebnik.org</div>
<div class="t w" style="left:56.0px;top:2356.05px;font-size:16.4px;color:#111;letter-spacing:0.680px;-webkit-text-stroke:0.35px #111;">gdz-reshebnik.org</div>
<div class="t w" style="left:280.0px;top:2356.05px;font-size:16.4px;color:#111;letter-spacing:0.680px;-webkit-text-stroke:0.35px #111;">gdz-reshebnik.org</div>
<div class="t w" style="left:504.0px;top:2363.55px;font-size:16.4px;color:#111;letter-spacing:0.680px;-webkit-text-stroke:0.35px #111;">gdz-reshebnik.org</div>
<div class="t ws" style="left:172.3px;top:2452.37px;font-size:12.6px;color:#111;letter-spacing:-0.450px;-webkit-text-stroke:0.2px #111;">gdz-reshebnik.org</div>
<div class="t ws" style="left:328.7px;top:2452.37px;font-size:12.6px;color:#111;letter-spacing:-0.450px;-webkit-text-stroke:0.2px #111;">gdz-reshebnik.org</div>
</div></body></html>
